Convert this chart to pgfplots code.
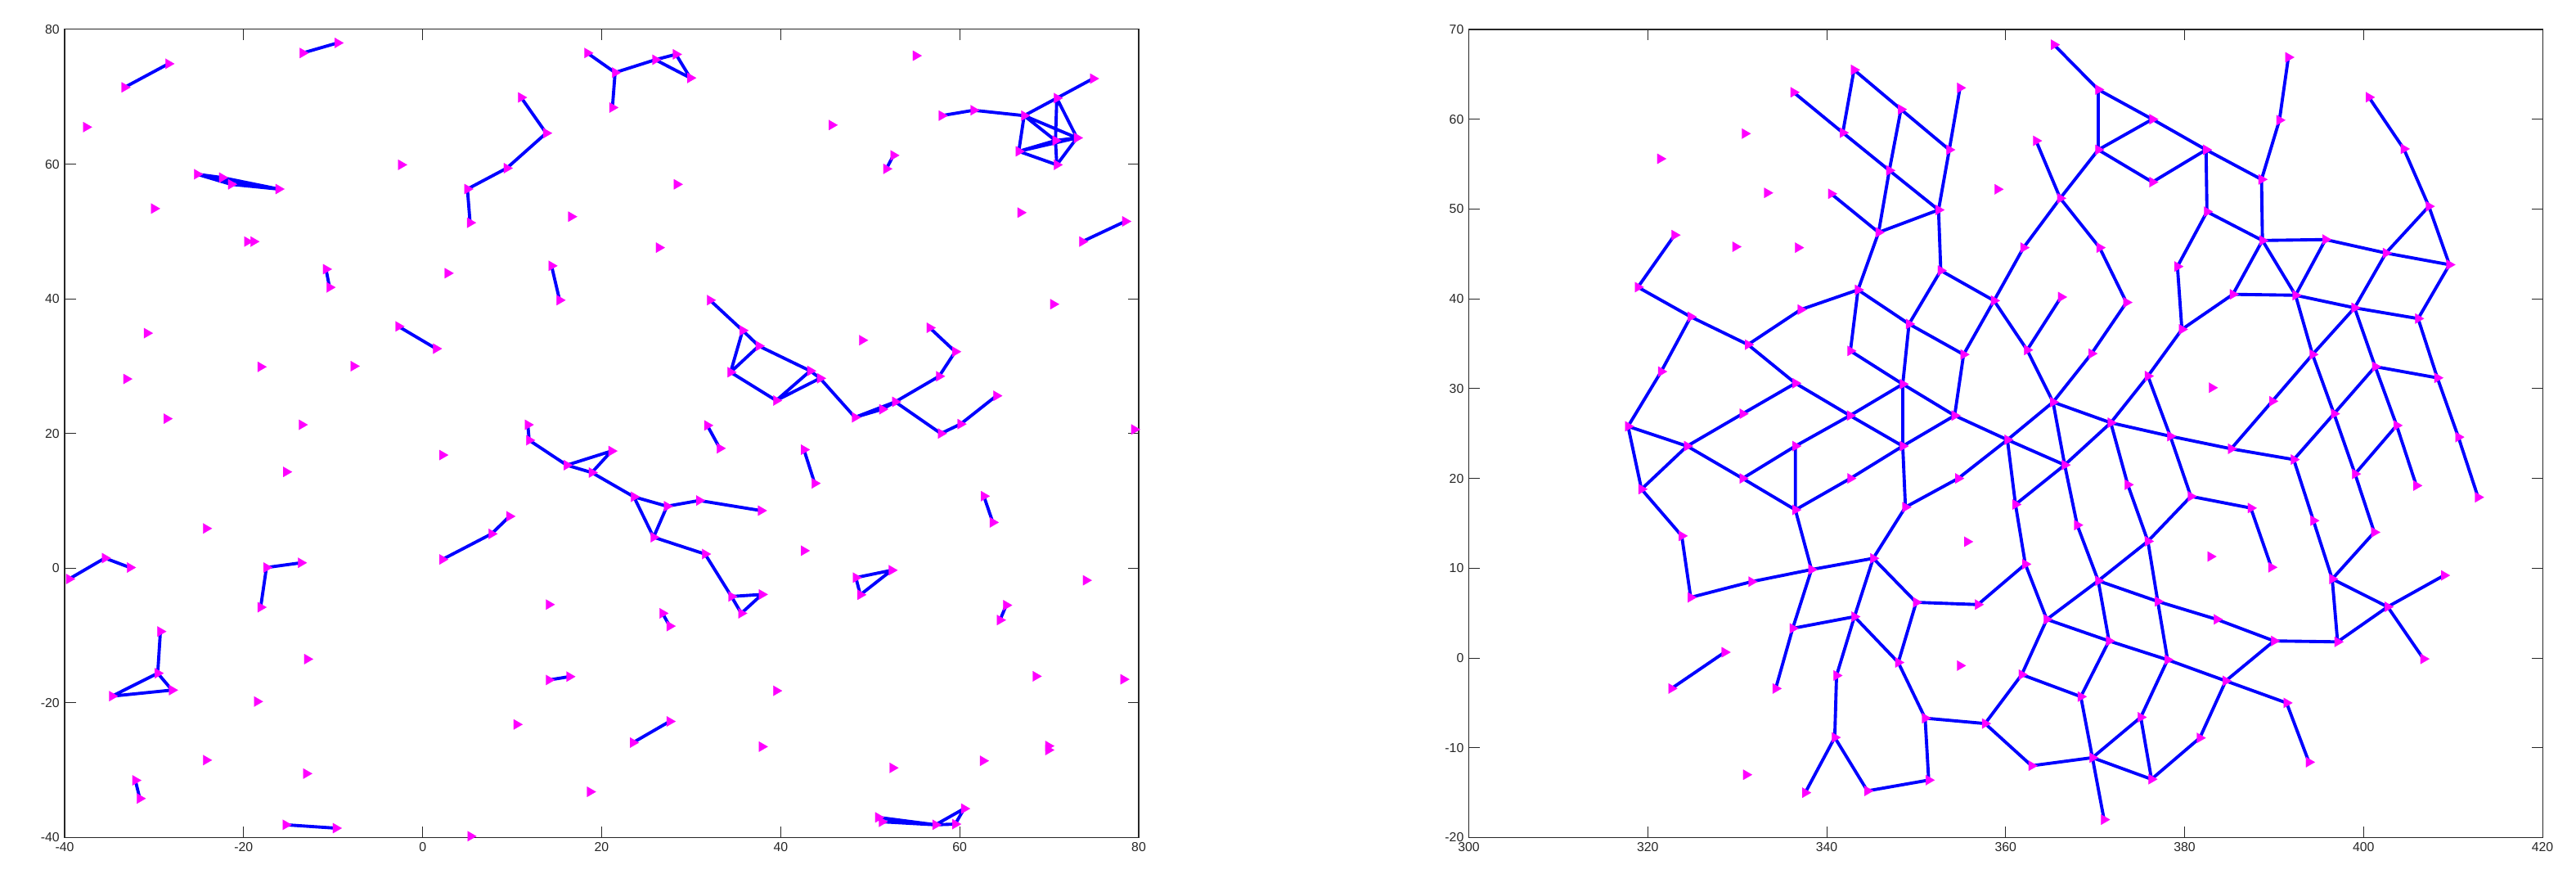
\documentclass[border=0pt]{standalone}
\usepackage{pgfplots}
\pgfplotsset{compat=1.18}
\usepackage{fontspec}
\setmainfont{Liberation Sans}

\definecolor{axgray}{RGB}{38,38,38}
\definecolor{ptmag}{RGB}{255,0,255}
\definecolor{edgeblue}{RGB}{0,0,255}

\pgfplotsset{
  netaxis/.style={
    scale only axis, height=19.75cm, anchor=south west,
    axis line style={axgray, line width=0.6pt},
    tick style={axgray, line width=0.6pt},
    tick align=inside, major tick length=2.7mm,
    xtick pos=both, ytick pos=both,
    tick label style={font=\fontsize{9}{10}\selectfont, text=axgray},
    unbounded coords=jump, clip=false,
  },
  pts/.style={only marks, mark=triangle*, mark size=4.1pt,
    mark options={rotate=-90, fill=ptmag, draw=ptmag, line width=0.1pt}},
  edges/.style={edgeblue, line width=2.2pt, no marks, line join=round, line cap=round},
}

\begin{document}
\begin{tikzpicture}
\path[use as bounding box] (0,0) rectangle (62.98cm,21.56cm);

% left panel
\begin{axis}[netaxis, at={(1.58cm,1.09cm)}, width=26.26cm,
  xmin=-40, xmax=80, ymin=-40, ymax=80,
  xtick={-40,-20,0,20,40,60,80}, xticklabels={-40,-20,0,20,40,60,80},
  ytick={-40,-20,0,20,40,60,80}, yticklabels={-40,-20,0,20,40,60,80}]
\addplot[pts] coordinates {
(-33.3,71.4) (-28.4,74.9) (-13.4,76.5) (-9.5,78.0) (-37.6,65.5)
(-25.2,58.5) (-22.4,58.0) (-21.4,57.0) (-16.1,56.3) (-30.0,53.4)
(-19.6,48.5) (-18.9,48.5) (-10.8,44.4) (-10.4,41.7) (2.8,43.8) (-2.4,59.9)
(11.0,69.9) (13.8,64.6) (9.4,59.4) (5.0,56.3) (5.3,51.3) (16.6,52.2)
(14.4,44.9) (15.3,39.8) (-2.7,35.9) (1.5,32.6) (-30.8,34.9) (-33.1,28.1)
(-18.1,29.9) (-7.7,30.0) (-28.6,22.2) (-13.5,21.3) (11.75,21.3) (11.9,19.0) (16.1,15.3)
(2.2,16.8) (-15.25,14.3) (-24.2,5.9) (-39.5,-1.6) (-35.5,1.5) (-32.7,0.1)
(-18.1,-5.8) (-17.45,0.1) (-13.6,0.8) (2.2,1.3) (7.7,5.1) (9.7,7.7) (14.1,-5.4)
(-29.3,-9.4) (-29.6,-15.6) (-34.7,-19.0) (-28.0,-18.1) (-12.9,-13.5) (14.1,-16.6) (16.4,-16.1)
(-18.5,-19.8) (10.5,-23.2) (-24.2,-28.5) (-13.0,-30.5) (-32.1,-31.5) (-31.6,-34.2)
(-15.3,-38.1) (-9.7,-38.6) (5.35,-39.8)
(31.8,21.2) (33.2,17.8) (42.6,17.6) (43.8,12.6) (21.1,17.4) (18.9,14.2)
(23.6,10.6) (27.3,9.2) (30.9,10.05) (37.8,8.55) (25.8,4.6) (31.55,2.1) (34.5,-4.2) (37.9,-3.9) (35.6,-6.7)
(42.6,2.6) (48.4,-1.4) (52.4,-0.3) (48.9,-3.95) (62.7,10.7) (63.7,6.8) (74.1,-1.8)
(65.2,-5.5) (64.5,-7.7) (26.8,-6.7) (27.6,-8.6) (39.5,-18.2) (68.5,-16.05) (78.3,-16.5)
(23.5,-25.9) (27.6,-22.75) (37.9,-26.5) (52.5,-29.65) (62.6,-28.6) (69.9,-26.4) (69.9,-27.0) (18.7,-33.2)
(50.9,-37.0) (51.3,-37.65) (57.3,-38.1) (59.5,-38.0) (60.5,-35.7)
(18.4,76.5) (21.5,73.6) (21.2,68.4) (26.0,75.5) (28.3,76.3) (29.9,72.8)
(55.1,76.1) (45.7,65.8) (52.6,61.3) (51.8,59.3) (28.4,57.0) (26.4,47.6)
(58.0,67.2) (61.55,68.0) (67.2,67.2) (70.85,69.8) (74.9,72.7) (73.1,63.9) (66.6,61.9) (70.85,59.9) (70.7,63.5)
(32.1,39.8) (35.75,35.3) (37.55,33.0) (34.4,29.1) (39.5,24.9) (43.3,29.3) (44.4,28.2) (48.3,22.4)
(51.35,23.6) (52.8,24.7) (57.7,28.5) (59.5,32.15) (56.65,35.7) (57.9,20.0) (60.1,21.4) (64.1,25.6)
(70.45,39.2) (66.8,52.8) (73.7,48.5) (78.5,51.5) (49.1,33.85) (79.5,20.6)
};
\addplot[edges] coordinates {
(-33.3,71.4) (-28.4,74.9) (nan,nan)
(-13.4,76.5) (-9.5,78.0) (nan,nan)
(-25.2,58.5) (-16.1,56.3) (-22.4,58.0) (-25.2,58.5) (-21.4,57.0) (-16.1,56.3) (nan,nan)
(-19.6,48.5) (-18.9,48.5) (nan,nan)
(-10.8,44.4) (-10.4,41.7) (nan,nan)
(11.0,69.9) (13.8,64.6) (9.4,59.4) (5.0,56.3) (5.3,51.3) (nan,nan)
(14.4,44.9) (15.3,39.8) (nan,nan)
(-2.7,35.9) (1.5,32.6) (nan,nan)
(11.75,21.3) (11.9,19.0) (16.1,15.3) (21.1,17.4) (18.9,14.2) (16.1,15.3) (nan,nan)
(18.9,14.2) (23.6,10.6) (27.3,9.2) (30.9,10.05) (37.8,8.55) (nan,nan)
(23.6,10.6) (25.8,4.6) (27.3,9.2) (nan,nan)
(25.8,4.6) (31.55,2.1) (34.5,-4.2) (37.9,-3.9) (35.6,-6.7) (34.5,-4.2) (nan,nan)
(-39.5,-1.6) (-35.5,1.5) (-32.7,0.1) (nan,nan)
(-18.1,-5.8) (-17.45,0.1) (-13.6,0.8) (nan,nan)
(2.2,1.3) (7.7,5.1) (9.7,7.7) (nan,nan)
(-29.3,-9.4) (-29.6,-15.6) (-34.7,-19.0) (-28.0,-18.1) (-29.6,-15.6) (nan,nan)
(14.1,-16.6) (16.4,-16.1) (nan,nan)
(-32.1,-31.5) (-31.6,-34.2) (nan,nan)
(-15.3,-38.1) (-9.7,-38.6) (nan,nan)
(31.8,21.2) (33.2,17.8) (nan,nan)
(42.6,17.6) (43.8,12.6) (nan,nan)
(48.4,-1.4) (52.4,-0.3) (48.9,-3.95) (48.4,-1.4) (nan,nan)
(62.7,10.7) (63.7,6.8) (nan,nan)
(65.2,-5.5) (64.5,-7.7) (nan,nan)
(26.8,-6.7) (27.6,-8.6) (nan,nan)
(23.5,-25.9) (27.6,-22.75) (nan,nan)
(69.9,-26.4) (69.9,-27.0) (nan,nan)
(50.9,-37.0) (57.3,-38.1) (51.3,-37.65) (50.9,-37.0) (nan,nan)
(57.3,-38.1) (60.5,-35.7) (59.5,-38.0) (57.3,-38.1) (nan,nan)
(18.4,76.5) (21.5,73.6) (21.2,68.4) (nan,nan)
(21.5,73.6) (26.0,75.5) (28.3,76.3) (29.9,72.8) (26.0,75.5) (nan,nan)
(52.6,61.3) (51.8,59.3) (nan,nan)
(58.0,67.2) (61.55,68.0) (67.2,67.2) (70.85,69.8) (74.9,72.7) (nan,nan)
(67.2,67.2) (73.1,63.9) (70.85,69.8) (70.7,63.5) (70.85,59.9) (73.1,63.9) (nan,nan)
(67.2,67.2) (66.6,61.9) (70.85,59.9) (nan,nan)
(66.6,61.9) (73.1,63.9) (nan,nan)
(66.6,61.9) (70.7,63.5) (67.2,67.2) (nan,nan)
(70.7,63.5) (73.1,63.9) (nan,nan)
(32.1,39.8) (35.75,35.3) (37.55,33.0) (43.3,29.3) (44.4,28.2) (48.3,22.4) (51.35,23.6) (52.8,24.7) (57.7,28.5) (59.5,32.15) (56.65,35.7) (nan,nan)
(35.75,35.3) (34.4,29.1) (37.55,33.0) (nan,nan)
(34.4,29.1) (39.5,24.9) (43.3,29.3) (nan,nan)
(39.5,24.9) (44.4,28.2) (nan,nan)
(48.3,22.4) (52.8,24.7) (57.9,20.0) (60.1,21.4) (64.1,25.6) (nan,nan)
(73.7,48.5) (78.5,51.5)
};
\end{axis}

% right panel
\begin{axis}[netaxis, at={(35.91cm,1.09cm)}, width=26.25cm,
  xmin=300, xmax=420, ymin=-20, ymax=70,
  xtick={300,320,340,360,380,400,420}, xticklabels={300,320,340,360,380,400,420},
  ytick={-20,-10,0,10,20,30,40,50,60,70}, yticklabels={-20,-10,0,10,20,30,40,50,60,70}]
\addplot[pts] coordinates {
(343.05,65.5) (336.3,63.0) (348.3,61.1) (354.9,63.5) (341.8,58.5) (353.7,56.6) (330.85,58.4)
(321.4,55.6) (347.0,54.3) (359.1,52.2) (333.35,51.8) (340.5,51.7) (352.5,49.9) (345.8,47.4)
(323.0,47.1) (329.8,45.8) (336.8,45.7) (318.9,41.3) (343.5,41.0) (352.75,43.15) (358.7,39.8)
(337.1,38.8) (324.8,38.0) (331.2,34.9) (349.2,37.2) (342.65,34.2) (355.3,33.8) (321.5,31.9)
(336.5,30.6) (348.5,30.5) (330.6,27.2) (342.6,27.0) (354.3,27.0) (317.8,25.8) (360.2,24.3)
(365.4,68.3) (370.35,63.3) (376.4,60.0) (370.35,56.6) (376.4,53.0) (382.4,56.6) (391.6,66.9)
(390.6,59.9) (388.6,53.3) (363.4,57.6) (366.1,51.2) (400.6,62.45) (404.5,56.7) (407.3,50.3)
(382.5,49.7) (388.7,46.5) (395.75,46.6) (402.5,45.1) (409.6,43.8) (362.0,45.7) (370.5,45.7)
(379.2,43.6) (385.4,40.5) (392.4,40.4) (399.0,39.0) (406.1,37.8) (366.2,40.2) (373.5,39.6)
(362.4,34.3) (379.7,36.6) (369.6,33.9) (375.9,31.4) (383.05,30.1) (394.3,33.8) (401.3,32.45)
(408.25,31.2) (365.3,28.5) (371.75,26.2) (389.8,28.6) (396.7,27.2) (403.7,25.9) (378.4,24.7) (410.6,24.6)
(324.4,23.6) (336.5,23.6) (330.6,20.0) (342.65,20.0) (354.7,20.0) (319.3,18.8) (336.5,16.5)
(348.8,16.8) (348.5,23.6) (323.8,13.6) (355.7,12.95) (345.2,11.1) (338.3,9.85) (331.6,8.5)
(324.8,6.75) (350.0,6.2) (356.9,5.95) (343.1,4.6) (336.2,3.3) (328.6,0.64) (348.0,-0.5)
(354.9,-0.85) (322.65,-3.4) (334.3,-3.4) (341.1,-1.95) (351.0,-6.7) (357.7,-7.3) (340.9,-8.85)
(331.0,-13.0) (337.6,-15.0) (344.55,-14.8) (351.4,-13.6)
(366.6,21.5) (385.2,23.3) (392.2,22.1) (399.05,20.5) (405.9,19.2) (412.8,17.9) (361.1,17.1)
(373.65,19.3) (380.7,18.0) (387.4,16.7) (368.0,14.8) (394.4,15.3) (401.2,14.0) (375.9,13.0)
(362.2,10.45) (382.9,11.3) (389.7,10.1) (370.35,8.6) (396.5,8.8) (409.0,9.2) (402.7,5.7)
(364.6,4.3) (377.0,6.3) (383.6,4.3) (390.0,1.9) (397.1,1.8) (371.55,1.9) (378.1,-0.2)
(406.7,-0.1) (361.8,-1.85) (384.6,-2.55) (368.4,-4.3) (391.4,-5.0) (375.1,-6.6) (381.7,-8.9)
(369.7,-11.1) (362.9,-12.0) (376.3,-13.5) (393.9,-11.6) (371.0,-18.0)
};
\addplot[edges] coordinates {
(336.3,63.0) (341.8,58.5) (347.0,54.3) (352.5,49.9) (352.75,43.15) (358.7,39.8) (355.3,33.8) (354.3,27.0) (360.2,24.3) (nan,nan)
(343.05,65.5) (341.8,58.5) (nan,nan)
(343.05,65.5) (348.3,61.1) (347.0,54.3) (345.8,47.4) (343.5,41.0) (342.65,34.2) (348.5,30.5) (342.6,27.0) (336.5,30.6) (331.2,34.9) (324.8,38.0) (318.9,41.3) (323.0,47.1) (nan,nan)
(354.9,63.5) (353.7,56.6) (352.5,49.9) (345.8,47.4) (340.5,51.7) (nan,nan)
(348.3,61.1) (353.7,56.6) (nan,nan)
(352.75,43.15) (349.2,37.2) (343.5,41.0) (337.1,38.8) (331.2,34.9) (nan,nan)
(349.2,37.2) (355.3,33.8) (nan,nan)
(349.2,37.2) (348.5,30.5) (354.3,27.0) (nan,nan)
(348.5,30.5) (348.5,23.6) (342.6,27.0) (336.5,23.6) (330.6,20.0) (324.4,23.6) (330.6,27.2) (336.5,30.6) (nan,nan)
(324.8,38.0) (321.5,31.9) (317.8,25.8) (324.4,23.6) (319.3,18.8) (317.8,25.8) (nan,nan)
(354.3,27.0) (348.5,23.6) (342.65,20.0) (336.5,16.5) (336.5,23.6) (nan,nan)
(330.6,20.0) (336.5,16.5) (338.3,9.85) (345.2,11.1) (348.8,16.8) (348.5,23.6) (nan,nan)
(348.8,16.8) (354.7,20.0) (360.2,24.3) (nan,nan)
(319.3,18.8) (323.8,13.6) (324.8,6.75) (331.6,8.5) (338.3,9.85) (336.2,3.3) (343.1,4.6) (345.2,11.1) (350.0,6.2) (356.9,5.95) (362.2,10.45) (nan,nan)
(336.2,3.3) (334.3,-3.4) (nan,nan)
(343.1,4.6) (341.1,-1.95) (340.9,-8.85) (337.6,-15.0) (nan,nan)
(340.9,-8.85) (344.55,-14.8) (351.4,-13.6) (351.0,-6.7) (348.0,-0.5) (343.1,4.6) (nan,nan)
(350.0,6.2) (348.0,-0.5) (nan,nan)
(351.0,-6.7) (357.7,-7.3) (361.8,-1.85) (nan,nan)
(357.7,-7.3) (362.9,-12.0) (nan,nan)
(328.6,0.64) (322.65,-3.4) (nan,nan)
(358.7,39.8) (362.0,45.7) (366.1,51.2) (370.35,56.6) (370.35,63.3) (365.4,68.3) (nan,nan)
(370.35,63.3) (376.4,60.0) (382.4,56.6) (388.6,53.3) (388.7,46.5) (382.5,49.7) (382.4,56.6) (nan,nan)
(376.4,60.0) (370.35,56.6) (376.4,53.0) (382.4,56.6) (nan,nan)
(391.6,66.9) (390.6,59.9) (388.6,53.3) (nan,nan)
(382.5,49.7) (379.2,43.6) (379.7,36.6) (385.4,40.5) (388.7,46.5) (392.4,40.4) (395.75,46.6) (388.7,46.5) (nan,nan)
(395.75,46.6) (402.5,45.1) (409.6,43.8) (407.3,50.3) (404.5,56.7) (400.6,62.45) (nan,nan)
(407.3,50.3) (402.5,45.1) (399.0,39.0) (392.4,40.4) (385.4,40.5) (nan,nan)
(399.0,39.0) (406.1,37.8) (409.6,43.8) (nan,nan)
(406.1,37.8) (408.25,31.2) (410.6,24.6) (412.8,17.9) (nan,nan)
(408.25,31.2) (401.3,32.45) (399.0,39.0) (nan,nan)
(399.0,39.0) (394.3,33.8) (389.8,28.6) (385.2,23.3) (nan,nan)
(392.4,40.4) (394.3,33.8) (396.7,27.2) (392.2,22.1) (394.4,15.3) (396.5,8.8) (401.2,14.0) (399.05,20.5) (396.7,27.2) (nan,nan)
(401.3,32.45) (396.7,27.2) (nan,nan)
(401.3,32.45) (403.7,25.9) (399.05,20.5) (nan,nan)
(403.7,25.9) (405.9,19.2) (nan,nan)
(358.7,39.8) (362.4,34.3) (365.3,28.5) (371.75,26.2) (378.4,24.7) (385.2,23.3) (392.2,22.1) (nan,nan)
(365.3,28.5) (360.2,24.3) (366.6,21.5) (365.3,28.5) (nan,nan)
(371.75,26.2) (366.6,21.5) (361.1,17.1) (360.2,24.3) (nan,nan)
(361.1,17.1) (362.2,10.45) (364.6,4.3) (361.8,-1.85) (368.4,-4.3) (369.7,-11.1) (371.0,-18.0) (nan,nan)
(366.6,21.5) (368.0,14.8) (370.35,8.6) (371.55,1.9) (368.4,-4.3) (nan,nan)
(369.7,-11.1) (362.9,-12.0) (nan,nan)
(369.7,-11.1) (376.3,-13.5) (375.1,-6.6) (369.7,-11.1) (nan,nan)
(376.3,-13.5) (381.7,-8.9) (384.6,-2.55) (391.4,-5.0) (393.9,-11.6) (nan,nan)
(384.6,-2.55) (390.0,1.9) (397.1,1.8) (402.7,5.7) (409.0,9.2) (nan,nan)
(402.7,5.7) (406.7,-0.1) (nan,nan)
(396.5,8.8) (402.7,5.7) (nan,nan)
(396.5,8.8) (397.1,1.8) (nan,nan)
(363.4,57.6) (366.1,51.2) (370.5,45.7) (373.5,39.6) (369.6,33.9) (365.3,28.5) (nan,nan)
(366.2,40.2) (362.4,34.3) (nan,nan)
(379.7,36.6) (375.9,31.4) (371.75,26.2) (373.65,19.3) (375.9,13.0) (380.7,18.0) (378.4,24.7) (375.9,31.4) (nan,nan)
(380.7,18.0) (387.4,16.7) (389.7,10.1) (nan,nan)
(375.9,13.0) (370.35,8.6) (nan,nan)
(375.9,13.0) (377.0,6.3) (378.1,-0.2) (375.1,-6.6) (nan,nan)
(370.35,8.6) (377.0,6.3) (383.6,4.3) (390.0,1.9) (nan,nan)
(364.6,4.3) (370.35,8.6) (nan,nan)
(364.6,4.3) (371.55,1.9) (378.1,-0.2) (384.6,-2.55)
};
\end{axis}
\end{tikzpicture}
\end{document}
